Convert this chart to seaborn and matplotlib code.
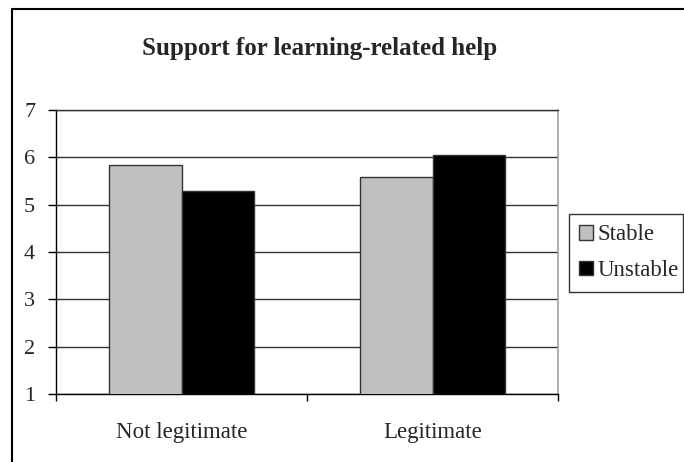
import pandas as pd
import seaborn as sns
import matplotlib.pyplot as plt
from matplotlib.lines import Line2D

# data
categories = ["Not legitimate", "Legitimate"]
groups = ["Stable", "Unstable"]
stable = [5.83, 5.58]
unstable = [5.29, 6.05]

df = pd.DataFrame({
    "Legitimacy": categories * 2,
    "Group": [groups[0]] * 2 + [groups[1]] * 2,
    "Support": stable + unstable,
})

sns.set_style("white")
plt.rcParams["font.family"] = ["Liberation Serif", "DejaVu Serif"]

palette = {"Stable": "#c0c0c0", "Unstable": "#000000"}

W, H = 684, 462
fig = plt.figure(figsize=(W / 100, H / 100), dpi=100)
ax = fig.add_axes([56 / W, 1 - 394 / H, 502 / W, 284 / H])

sns.barplot(
    data=df, x="Legitimacy", y="Support", hue="Group",
    order=categories, hue_order=groups, palette=palette,
    width=0.576, gap=0, edgecolor="#333333", linewidth=1,
    saturation=1, ax=ax, legend=False, zorder=3,
)

ax.set_ylim(1, 7)
ax.set_xlim(-0.5, 1.5)
ax.set_yticks(range(1, 8))
ax.yaxis.grid(True, color="#333333", linewidth=1)
ax.set_axisbelow(True)
ax.set_xlabel("")
ax.set_ylabel("")

for s in ["left", "bottom"]:
    ax.spines[s].set_color("black")
    ax.spines[s].set_linewidth(1)
ax.spines["right"].set_color("#a0a0a0")
ax.spines["right"].set_linewidth(1.2)
ax.spines["top"].set_color("#333333")
ax.spines["top"].set_linewidth(1)

ax.tick_params(axis="y", left=True, length=6, width=1, color="black",
               labelsize=16, pad=9)
ax.tick_params(axis="x", which="major", length=0, labelsize=16.5, pad=20)
ax.set_xticks([-0.5, 0.5, 1.5], minor=True)
ax.tick_params(axis="x", which="minor", bottom=True, length=5, width=1,
               color="black")

fig.text(320 / W, 1 - 48 / H, "Support for learning-related help",
         ha="center", va="center", fontsize=18, fontweight="bold")

# outer chart frame (top and left edges visible)
fig.add_artist(Line2D([12 / W, 12 / W], [0, 1 - 8.5 / H], color="black", lw=1.5))
fig.add_artist(Line2D([12 / W, 1], [1 - 8.5 / H, 1 - 8.5 / H], color="black", lw=1.5))

handles = [plt.Rectangle((0, 0), 1, 1, facecolor=palette[g], edgecolor="#333333")
           for g in groups]
fig.legend(handles, groups, loc="upper left", mode="expand",
           bbox_to_anchor=(569 / W, 1 - 287 / H, 114 / W, 73 / H),
           frameon=True, fancybox=False, edgecolor="black", fontsize=16.5,
           handlelength=0.6, handleheight=0.6, handletextpad=0.2,
           borderpad=0.45, labelspacing=0.65, borderaxespad=0)

fig.savefig("out.png", dpi=100)
